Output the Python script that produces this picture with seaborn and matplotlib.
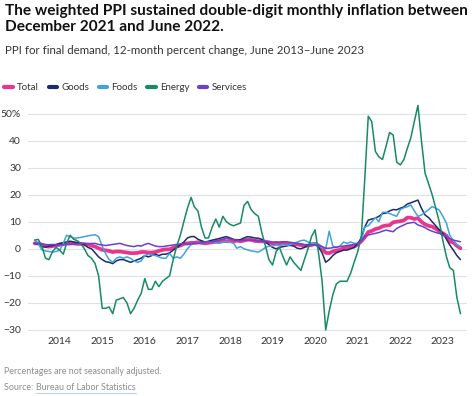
import numpy as np
import pandas as pd
import seaborn as sns
import matplotlib.pyplot as plt
import matplotlib.dates as mdates
from matplotlib.lines import Line2D

# PPI final demand, 12-month percent change, Jun 2013 - Jun 2023 (monthly)
months = pd.date_range("2013-06-01", "2023-06-01", freq="MS")

total = [
    2.0, 2.0, 1.5, 1.0, 0.8, 1.0, 1.2,
    1.5, 1.8, 2.0, 2.0, 2.0, 1.8, 1.8, 1.6, 1.6, 1.2, 0.8, 0.2,
    -0.4, -0.6, -0.8, -1.2, -1.0, -1.0, -1.2, -1.4, -1.6, -1.6, -1.5, -1.2,
    -1.2, -1.4, -1.4, -1.2, -0.8, -0.4, -0.2, -0.2, 0.4, 0.8, 1.2, 1.8,
    2.0, 2.2, 2.2, 2.4, 2.2, 2.0, 2.2, 2.4, 2.6, 2.8, 3.0, 2.8,
    2.8, 2.8, 3.0, 2.8, 3.0, 3.4, 3.3, 2.9, 2.8, 2.8, 2.6, 2.4,
    2.0, 1.8, 2.0, 2.2, 2.0, 1.6, 1.6, 1.6, 1.4, 1.0, 1.2, 1.4,
    1.8, 1.2, 0.2, -1.5, -1.6, -1.0, -0.6, -0.4, 0.2, 0.4, 0.8, 0.8,
    1.6, 2.8, 4.2, 6.2, 6.6, 7.3, 7.6, 8.3, 8.6, 8.7, 9.8, 10.0,
    10.2, 10.5, 11.5, 11.5, 11.0, 11.3, 10.0, 9.0, 8.5, 8.2, 7.4, 6.5,
    5.7, 4.8, 2.7, 2.3, 1.1, 0.2,
]
goods = [
    2.0, 1.8, 0.8, 0.6, 1.0, 1.2, 1.5,
    2.0, 2.2, 2.5, 2.8, 2.5, 2.3, 2.0, 1.5, 0.5, 0.0, -1.5, -3.0,
    -4.0, -4.8, -5.0, -5.5, -4.5, -4.0, -4.0, -4.5, -5.0, -4.5, -4.0, -3.5,
    -2.5, -3.0, -2.5, -2.0, -2.5, -2.0, -2.0, -1.5, -0.5, 0.5, 1.5, 2.5,
    4.0, 4.5, 4.5, 3.5, 3.0, 2.5, 2.8, 3.2, 3.5, 3.8, 4.2, 4.5,
    4.0, 3.5, 3.2, 3.4, 4.0, 4.5, 4.3, 4.0, 3.9, 3.5, 2.5, 1.5,
    0.5, 0.0, 0.5, 0.8, 1.0, 1.4, 1.0, 0.2, 0.0, 0.5, 1.4, 2.0,
    2.0, 0.5, -1.5, -5.0, -4.0, -2.5, -1.5, -1.0, -0.5, -0.5, 0.0, 0.5,
    2.0, 4.0, 8.0, 10.6, 11.0, 11.3, 12.0, 13.0, 13.2, 14.0, 14.5, 14.4,
    15.0, 15.5, 16.5, 17.0, 17.5, 18.0, 15.0, 12.5, 11.5, 10.0, 8.5, 7.0,
    5.7, 3.5, 1.4, -0.5, -2.5, -4.0,
]
foods = [
    3.2, 2.0, -0.4, -0.8, -1.0, -1.2, -1.0,
    -0.5, 2.0, 5.0, 4.5, 4.0, 4.0, 4.2, 4.5, 4.8, 5.0, 5.2, 4.5,
    1.0, -2.0, -4.0, -5.0, -3.5, -3.0, -3.5, -3.0, -3.5, -4.5, -5.0, -4.5,
    -2.5, -2.0, -2.3, -2.5, -3.0, -3.5, -3.5, -1.7, -3.5, -3.0, -3.5, -2.0,
    0.0, 1.5, 1.8, 2.0, 2.2, 2.4, 2.6, 2.5, 2.2, 2.0, 2.4, 2.6,
    2.5, 2.0, 0.2, 0.8, 0.0, -0.4, -0.8, -1.0, -1.2, -0.5, 0.5, 1.0,
    1.0, 1.5, 1.0, 1.5, 1.2, 1.5, 2.0, 2.5, 3.0, 3.2, 2.5, 2.0,
    2.0, 1.0, 0.5, 0.0, 6.5, 1.0, 0.5, 1.0, 2.5, 2.0, 2.5, 2.0,
    2.0, 3.0, 8.0, 8.5, 10.0, 11.5, 10.0, 13.5, 13.5, 13.0, 12.5, 12.0,
    14.5, 15.2, 15.5, 16.2, 14.0, 12.0, 12.5, 13.5, 14.5, 15.6, 15.0, 14.3,
    12.0, 9.4, 5.0, 3.0, 1.5, 0.8,
]
energy = [
    3.2, 3.5, 1.0, -3.5, -4.0, -1.0, 0.5,
    -0.5, -2.0, 2.0, 5.0, 3.5, 3.0, 2.0, 0.0, -2.5, -3.5, -5.5, -10.0,
    -22.0, -22.0, -21.5, -24.0, -19.0, -18.5, -18.0, -20.0, -24.0, -22.0, -19.0, -16.5,
    -11.0, -15.0, -15.0, -12.0, -14.0, -12.0, -11.0, -10.0, -4.0, 1.0, 5.0, 10.0,
    15.0, 19.0, 15.5, 14.0, 8.0, 4.0, 4.0, 8.0, 11.0, 8.0, 12.0, 10.0,
    9.0, 8.5, 9.0, 9.5, 16.0, 17.5, 14.5, 13.0, 12.0, 6.0, 1.0, -4.0,
    -6.0, -1.0, 0.5, -3.0, -6.0, -3.0, -5.0, -6.5, -8.0, -4.0, 0.0, 4.5,
    7.0, -2.0, -12.0, -30.0, -23.0, -17.0, -13.0, -12.0, -12.0, -12.0, -9.0, -5.0,
    -1.0, 5.0, 25.0, 49.0, 47.0, 36.0, 34.0, 33.0, 38.0, 43.0, 42.0, 32.0,
    31.0, 33.0, 37.0, 41.0, 47.0, 53.0, 40.0, 28.0, 24.0, 20.0, 15.0, 10.0,
    3.0, -3.0, -7.0, -8.0, -18.0, -24.0,
]
services = [
    2.0, 2.0, 1.8, 1.6, 1.5, 1.6, 1.5,
    1.4, 1.5, 1.6, 1.6, 1.8, 1.8, 2.0, 2.0, 1.8, 2.0, 2.0, 1.6,
    1.4, 1.2, 1.4, 1.6, 1.8, 2.0, 1.6, 1.2, 1.0, 0.8, 1.2, 1.0,
    1.6, 2.0, 1.5, 1.0, 0.8, 0.8, 1.0, 1.2, 1.4, 1.6, 1.8, 2.0,
    1.6, 1.8, 2.0, 2.0, 2.2, 2.4, 2.6, 2.6, 2.8, 3.2, 3.6, 3.9,
    3.6, 3.4, 3.2, 3.0, 3.2, 3.2, 3.2, 3.2, 3.0, 2.8, 2.6, 2.6,
    2.4, 2.6, 2.4, 2.6, 2.6, 2.4, 2.2, 2.0, 1.8, 1.6, 1.4, 1.4,
    1.4, 1.2, 0.8, 0.2, 0.2, 0.4, 0.6, 0.8, 1.0, 1.2, 1.4, 1.6,
    2.0, 3.0, 4.5, 5.1, 5.4, 5.7, 6.0, 6.5, 6.9, 6.6, 6.3, 7.5,
    8.2, 8.8, 9.4, 9.6, 9.8, 8.8, 8.4, 7.8, 7.0, 6.5, 6.0, 5.7,
    5.0, 4.5, 3.8, 3.2, 2.9, 2.6,
]

series_names = ["Total", "Goods", "Foods", "Energy", "Services"]
palette = {
    "Total": "#e8358e",
    "Goods": "#1b2a6b",
    "Foods": "#3fa3dc",
    "Energy": "#178a66",
    "Services": "#6a3fd1",
}
widths = {"Total": 2.7, "Goods": 1.1, "Foods": 1.1, "Energy": 1.1, "Services": 1.1}
yticks = [-30, -20, -10, 0, 10, 20, 30, 40, 50]
ytick_labels = ["\u221230", "\u221220", "\u221210", "0", "10", "20", "30", "40", "50%"]
years = list(range(2014, 2024))

df = pd.DataFrame({"month": months, "Total": total, "Goods": goods, "Foods": foods,
                   "Energy": energy, "Services": services})
long_df = df.melt(id_vars="month", var_name="series", value_name="pct")

sns.set_theme(style="white")
plt.rcParams["font.family"] = ["Lato", "DejaVu Sans"]

fig = plt.figure(figsize=(4.74, 3.96), dpi=100)
ax = fig.add_axes([0.059, 0.1634, 0.926, 0.5773])

sns.lineplot(data=long_df, x="month", y="pct", hue="series", hue_order=series_names,
             palette=palette, size="series", sizes=widths, size_order=series_names,
             legend=False, ax=ax)

ax.set_xlim(pd.Timestamp("2013-04-04"), pd.Timestamp("2023-07-26"))
ax.set_ylim(-30.5, 54)
ax.set_yticks(yticks)
ax.set_yticklabels(ytick_labels)
ax.set_xticks([pd.Timestamp(f"{y}-01-01") for y in years])
ax.set_xticklabels([str(y) for y in years])
ax.set_xlabel("")
ax.set_ylabel("")
ax.grid(axis="y", color="#e1e1e1", linewidth=0.8)
ax.set_axisbelow(True)
for s in ax.spines.values():
    s.set_visible(False)
ax.tick_params(axis="both", length=0, labelsize=7.5, labelcolor="#333333")
ax.tick_params(axis="y", pad=5)
ax.tick_params(axis="x", pad=4)

# title block
fig.text(0.011, 1 - 4 / 396, "The weighted PPI sustained double-digit monthly inflation between\nDecember 2021 and June 2022.",
         ha="left", va="top", fontsize=11.1, fontweight="bold", color="#111111", linespacing=1.2)
fig.text(0.011, 1 - 45 / 396, "PPI for final demand, 12-month percent change, June 2013\u2013June 2023",
         ha="left", va="top", fontsize=8.3, color="#333333")

handles = [Line2D([], [], color=palette[n], linewidth=3) for n in series_names]
fig.legend(handles, series_names, loc="center left", bbox_to_anchor=(0.009, 1 - 88 / 396),
           ncol=5, frameon=False, handlelength=0.85, handletextpad=0.45, columnspacing=1.0,
           fontsize=7.0, labelcolor="#333333", borderaxespad=0, borderpad=0)

# footer
fig.text(0.009, 1 - 372 / 396, "Percentages are not seasonally adjusted.", ha="left", va="center",
         fontsize=6.4, color="#8c8c8c")
src = fig.text(0.009, 1 - 387 / 396, "Source: ", ha="left", va="center", fontsize=6.4, color="#8c8c8c")
fig.canvas.draw()
bb = src.get_window_extent()
link = fig.text(bb.x1 / 474, 1 - 387 / 396, "Bureau of Labor Statistics", ha="left", va="center",
                fontsize=6.4, color="#8c8c8c")
fig.canvas.draw()
lb = link.get_window_extent()
fig.add_artist(Line2D([lb.x0 / 474, lb.x1 / 474], [(lb.y0 - 1) / 396] * 2,
                      color="#b9d3e3", linewidth=0.8))

fig.savefig("out.png", dpi=100)
